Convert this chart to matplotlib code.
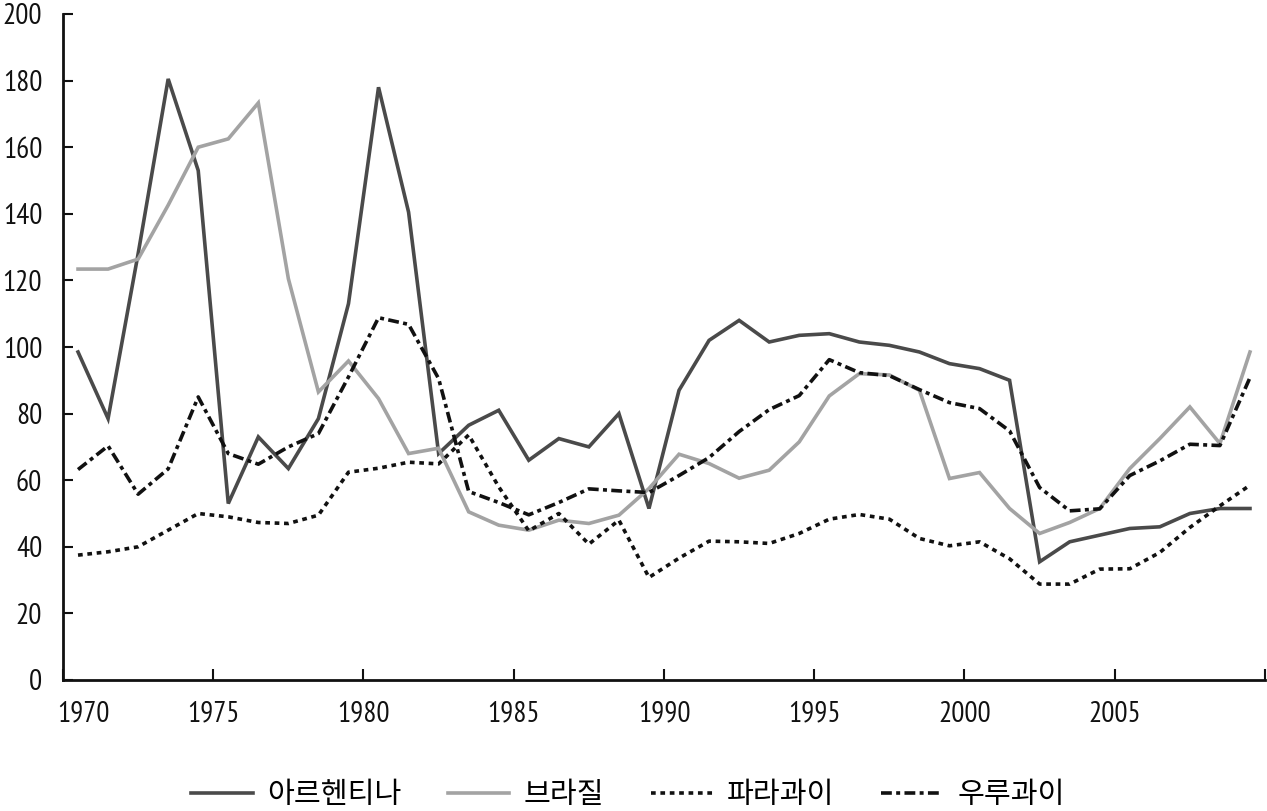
import matplotlib
matplotlib.use("Agg")
import matplotlib.pyplot as plt
import matplotlib.transforms as mtransforms
from matplotlib import font_manager

years = list(range(1970, 2010))

argentina = [98.5, 78.5, 128, 180.5, 153, 53, 73, 63.5, 78.5, 113,
             178, 140.5, 68, 76.5, 81, 66, 72.5, 70, 80, 51.5,
             87, 102, 108, 101.5, 103.5, 104, 101.5, 100.5, 98.5, 95,
             93.5, 90, 35.5, 41.5, 43.5, 45.5, 46, 50, 51.5, 51.5]
brazil = [123.4, 123.4, 126.4, 142.6, 160, 162.5, 173.3, 120.5, 86.5, 95.8,
          84.5, 68, 69.6, 50.5, 46.5, 45, 48, 47, 49.5, 57.5,
          67.8, 65, 60.6, 63, 71.5, 85.3, 92, 91.6, 87, 60.5,
          62.3, 51.5, 44, 47.3, 51.5, 63.5, 72.5, 82, 71, 98.5]
paraguay = [37.5, 38.5, 40, 45, 50, 49, 47.3, 47, 49.5, 62.4,
            63.6, 65.4, 64.9, 73.6, 58, 44.8, 50, 40.8, 48, 30.8,
            36.6, 41.7, 41.5, 41, 44, 48.3, 49.7, 48.3, 42.5, 40.3,
            41.5, 36.4, 28.8, 28.8, 33.3, 33.4, 38.3, 45.8, 52.3, 58.5]
uruguay = [63.2, 70.3, 55.8, 63.4, 85, 68, 64.8, 70, 74, 91,
           108.8, 106.8, 90.5, 56.6, 53.3, 49.6, 53.3, 57.4, 56.8, 56.3,
           61.4, 66.8, 74.6, 81.2, 85.4, 96.2, 92.3, 91.4, 87.2, 83.3,
           81.5, 74.8, 57.8, 50.8, 51.4, 61.4, 65.8, 70.8, 70.4, 90.8]

series_names = ["아르헨티나", "브라질", "파라과이", "우루과이"]
ytick_values = list(range(0, 201, 20))
xtick_labels = ["1970", "1975", "1980", "1985", "1990", "1995", "2000", "2005", ""]

avail = {f.name for f in font_manager.fontManager.ttflist}
num_font = ["DejaVu Sans"]
for cand in ["PT Sans Narrow", "Open Sans Condensed", "Roboto Condensed", "Archivo Narrow", "Barlow Semi Condensed"]:
    if cand in avail:
        num_font = [cand, "DejaVu Sans"]
        break
kr_font = ["Noto Sans CJK KR", "DejaVu Sans"]

fig = plt.figure(figsize=(12.67, 8.11), dpi=100)
ax = fig.add_axes([63 / 1267, 131 / 811, 1202 / 1267, 666 / 811])

lw = 2.6
ax.plot(years, argentina, color="#4a4a4a", lw=lw, solid_joinstyle="miter", label=series_names[0])
ax.plot(years, brazil, color="#a3a3a3", lw=lw, solid_joinstyle="miter", label=series_names[1])
ax.plot(years, paraguay, color="#111111", lw=lw, linestyle=(0, (1.3, 1.3)), dash_capstyle="butt",
        label=series_names[2])
ax.plot(years, uruguay, color="#111111", lw=lw, linestyle=(0, (3.0, 1.2, 1.1, 1.2)), dash_capstyle="butt",
        label=series_names[3])

ax.set_xlim(1969.5, 2009.5)
ax.set_ylim(0, 200)
ax.set_yticks(ytick_values)
ax.set_yticklabels([str(v) for v in ytick_values], family=num_font, fontsize=21)
xt = [1969.5 + 5 * i for i in range(len(xtick_labels))]
ax.set_xticks(xt)
ax.set_xticklabels(xtick_labels, family=num_font, fontsize=21)

ax.tick_params(axis="y", direction="in", length=7, width=1.5, pad=15, colors="#111111")
ax.tick_params(axis="x", direction="in", length=8, width=1.5, pad=15, colors="#111111")
for s in ["top", "right"]:
    ax.spines[s].set_visible(False)
for s in ["left", "bottom"]:
    ax.spines[s].set_linewidth(2)
    ax.spines[s].set_color("#111111")

# first x label sits slightly right of the axis corner
lab0 = ax.get_xticklabels()[0]
lab0.set_transform(lab0.get_transform() + mtransforms.ScaledTranslation(20 / 100, 0, fig.dpi_scale_trans))

leg = fig.legend(loc="center", bbox_to_anchor=(628 / 1267, 1 - 795 / 811), ncol=4, frameon=False,
                 prop={"family": kr_font, "size": 21}, handlelength=2.1, handletextpad=0.5,
                 columnspacing=1.6)

fig.savefig("out.png", dpi=100)
